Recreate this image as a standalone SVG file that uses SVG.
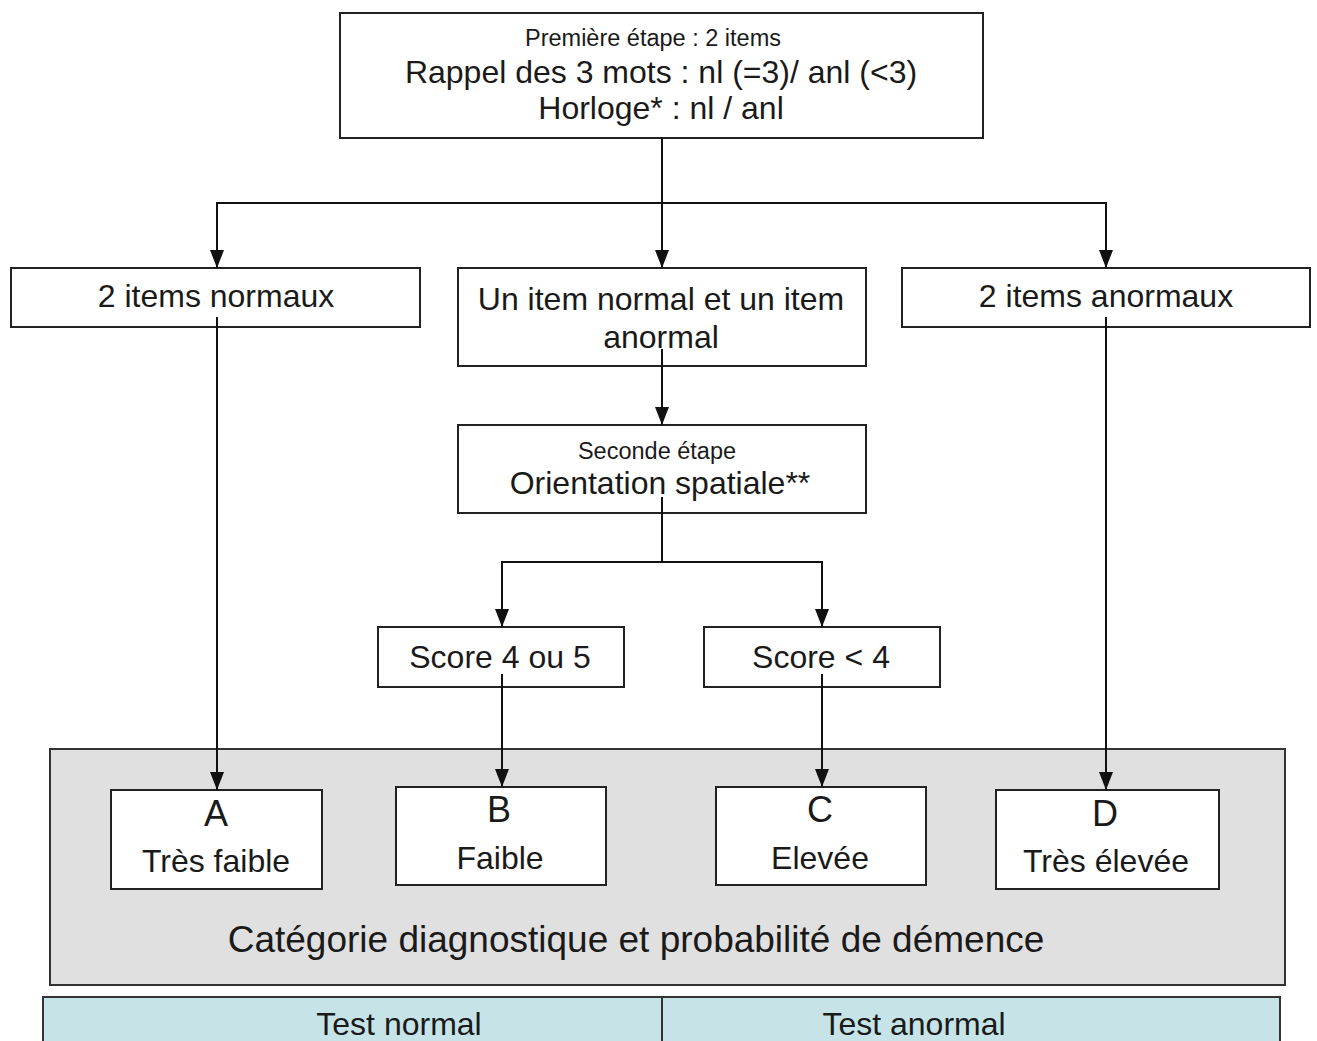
<svg xmlns="http://www.w3.org/2000/svg" width="1317" height="1041" viewBox="0 0 1317 1041">
<style>
text{font-family:"Liberation Sans",Arial,sans-serif;fill:#1a1a1a;text-anchor:middle}
.box{fill:#fff;stroke:#222;stroke-width:2}
.s{font-size:23.5px}
.m{font-size:32px}
.l{font-size:36px}
.c{fill:none;stroke:#111;stroke-width:2}
</style>
<defs>
<marker id="ah" markerWidth="18" markerHeight="14" refX="18" refY="7" orient="auto" markerUnits="userSpaceOnUse" viewBox="0 0 18 14">
<path d="M0,0 L18,7 L0,14 Z" fill="#111"/>
</marker>
</defs>
<rect width="1317" height="1041" fill="#fff"/>
<g id="categories-panel">
<rect x="50" y="749" width="1235" height="236" fill="#e0e0e0" stroke="#333" stroke-width="2"/>
<text x="636" y="952" style="font-size:37px">Catégorie diagnostique et probabilité de démence</text>
</g>
<g id="legend">
<rect x="43" y="997" width="1237" height="50" fill="#c6e4e8" stroke="#333" stroke-width="2"/>
<line x1="662" y1="997" x2="662" y2="1041" stroke="#333" stroke-width="2"/>
<text class="m" x="399" y="1035">Test normal</text>
<text class="m" x="914" y="1035">Test anormal</text>
</g>
<g id="n-etape1">
<rect class="box" x="340" y="13" width="643" height="125"/>
<text class="s" x="653" y="46">Première étape : 2 items</text>
<text class="m" x="661" y="83">Rappel des 3 mots : nl (=3)/ anl (&lt;3)</text>
<text class="m" x="661" y="119">Horloge* : nl / anl</text>
</g>
<g id="n-normaux">
<rect class="box" x="11" y="268" width="409" height="59"/>
<text class="m" x="216" y="307">2 items normaux</text>
</g>
<g id="n-mixte">
<rect class="box" x="458" y="268" width="408" height="98"/>
<text class="m" x="661" y="310">Un item normal et un item</text>
<text class="m" x="661" y="348">anormal</text>
</g>
<g id="n-anormaux">
<rect class="box" x="902" y="268" width="408" height="59"/>
<text class="m" x="1106" y="307">2 items anormaux</text>
</g>
<g id="n-etape2">
<rect class="box" x="458" y="425" width="408" height="88"/>
<text class="s" x="657" y="459">Seconde étape</text>
<text class="m" x="660" y="494">Orientation spatiale**</text>
</g>
<g id="n-score45">
<rect class="box" x="378" y="627" width="246" height="60"/>
<text class="m" x="500" y="668">Score 4 ou 5</text>
</g>
<g id="n-score4">
<rect class="box" x="704" y="627" width="236" height="60"/>
<text class="m" x="821" y="668">Score &lt; 4</text>
</g>
<g id="n-A">
<rect class="box" x="111" y="790" width="211" height="99"/>
<text class="l" x="216" y="826">A</text>
<text class="m" x="216" y="872">Très faible</text>
</g>
<g id="n-B">
<rect class="box" x="396" y="787" width="210" height="98"/>
<text class="l" x="499" y="822">B</text>
<text class="m" x="500" y="869">Faible</text>
</g>
<g id="n-C">
<rect class="box" x="716" y="787" width="210" height="98"/>
<text class="l" x="820" y="822">C</text>
<text class="m" x="820" y="869">Elevée</text>
</g>
<g id="n-D">
<rect class="box" x="996" y="790" width="223" height="99"/>
<text class="l" x="1105" y="826">D</text>
<text class="m" x="1106" y="872">Très élevée</text>
</g>
<g id="connectors">
<path class="c" d="M662,138 V203"/>
<path class="c" d="M662,203 H217 V268" marker-end="url(#ah)"/>
<path class="c" d="M662,203 V268" marker-end="url(#ah)"/>
<path class="c" d="M662,203 H1106 V268" marker-end="url(#ah)"/>
<path class="c" d="M217,317 V790" marker-end="url(#ah)"/>
<path class="c" d="M1106,317 V790" marker-end="url(#ah)"/>
<path class="c" d="M662,349 V425" marker-end="url(#ah)"/>
<path class="c" d="M662,497 V562"/>
<path class="c" d="M662,562 H502 V627" marker-end="url(#ah)"/>
<path class="c" d="M662,562 H822 V627" marker-end="url(#ah)"/>
<path class="c" d="M502,674 V787" marker-end="url(#ah)"/>
<path class="c" d="M822,674 V787" marker-end="url(#ah)"/>
</g>
</svg>
